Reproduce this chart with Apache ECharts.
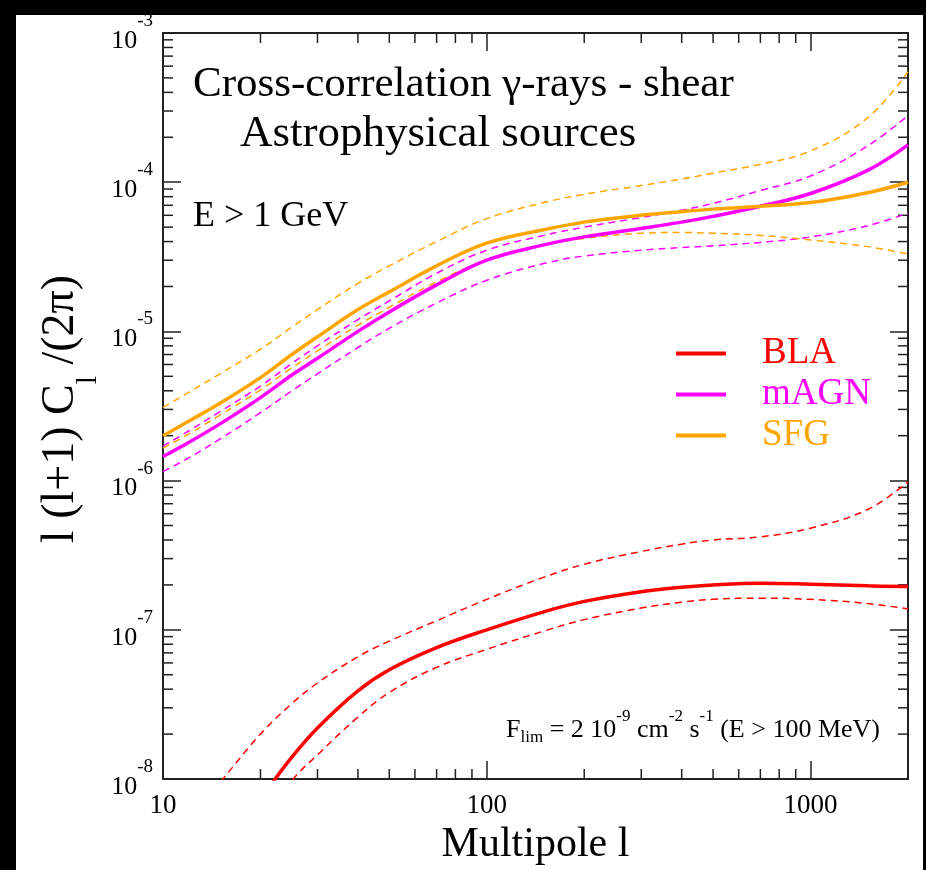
<!DOCTYPE html>
<html><head><meta charset="utf-8">
<script src="https://cdn.jsdelivr.net/npm/echarts@6/dist/echarts.min.js"></script>
<style>
html,body{margin:0;padding:0;background:#000;width:926px;height:870px;overflow:hidden}
#c{position:absolute;left:16px;top:15px;width:907px;height:855px;background:#fff}
</style></head><body><div id="c"></div>
<script>
// Multipole values (x)
const multipoles = [10,12,15,20,25,30,40,50,70,100,150,200,300,400,500,700,1000,1500,2000];
// SFG
const sfgMain = [2.0e-6,2.5e-6,3.3e-6,4.9e-6,7.0e-6,9.2e-6,1.4e-5,1.84e-5,2.75e-5,3.9e-5,4.8e-5,5.4e-5,6.0e-5,6.35e-5,6.6e-5,6.9e-5,7.3e-5,8.5e-5,1.0e-4];
const sfgHigh = [3.1e-6,3.9e-6,5.2e-6,7.6e-6,1.07e-5,1.4e-5,2.1e-5,2.75e-5,4.0e-5,5.7e-5,7.3e-5,8.3e-5,9.5e-5,1.05e-4,1.15e-4,1.32e-4,1.62e-4,2.7e-4,5.5e-4];
const sfgLow  = [1.65e-6,2.05e-6,2.75e-6,4.05e-6,5.7e-6,7.4e-6,1.1e-5,1.45e-5,2.15e-5,3.0e-5,3.8e-5,4.2e-5,4.55e-5,4.6e-5,4.55e-5,4.4e-5,4.1e-5,3.7e-5,3.3e-5];
// mAGN
const magnMain = [1.45e-6,1.8e-6,2.4e-6,3.6e-6,5.1e-6,6.6e-6,1.0e-5,1.35e-5,2.05e-5,3.0e-5,3.8e-5,4.3e-5,4.9e-5,5.4e-5,5.9e-5,6.9e-5,8.4e-5,1.2e-4,1.78e-4];
const magnHigh = [1.7e-6,2.15e-6,2.9e-6,4.3e-6,6.1e-6,8.0e-6,1.2e-5,1.6e-5,2.45e-5,3.5e-5,4.4e-5,5.0e-5,5.8e-5,6.5e-5,7.2e-5,8.8e-5,1.1e-4,1.75e-4,2.8e-4];
const magnLow  = [1.15e-6,1.42e-6,1.9e-6,2.85e-6,4.0e-6,5.2e-6,7.8e-6,1.05e-5,1.55e-5,2.2e-5,2.85e-5,3.2e-5,3.5e-5,3.65e-5,3.75e-5,3.95e-5,4.3e-5,5.1e-5,6.2e-5];
// BLA
const blaMain = [null,null,null,7.3e-9,1.4e-8,2.2e-8,3.9e-8,5.4e-8,7.6e-8,1.0e-7,1.32e-7,1.55e-7,1.8e-7,1.93e-7,2.0e-7,2.05e-7,2.02e-7,1.97e-7,1.95e-7];
const blaHigh = [null,5.5e-9,9.5e-9,2.0e-8,3.2e-8,4.4e-8,6.6e-8,8.4e-8,1.15e-7,1.6e-7,2.25e-7,2.75e-7,3.35e-7,3.75e-7,4.0e-7,4.2e-7,4.8e-7,6.4e-7,9.8e-7];
const blaLow  = [null,null,null,4.5e-9,9.7e-9,1.45e-8,2.6e-8,3.8e-8,5.6e-8,7.4e-8,9.8e-8,1.17e-7,1.4e-7,1.53e-7,1.6e-7,1.63e-7,1.6e-7,1.5e-7,1.38e-7];
// Axis ranges / ticks
const xMin = 10, xMax = 2000, yMin = 1e-8, yMax = 1e-3;
const xMinorTicks = [20,30,40,50,60,70,80,90,200,300,400,500,600,700,800,900];
const yMinorTicks = [];
for (let e = -8; e <= -4; e++) for (let k = 2; k <= 9; k++) yMinorTicks.push(k * Math.pow(10, e));

const F = "'Liberation Serif','Times New Roman',serif";
const RED = '#ff0000', MAG = '#ff00ff', ORA = '#ffa500';

function pairs(arr){ return multipoles.map((l,i)=>[l, arr[i]]); }
function dashed(name, arr, color){
  return {name, type:'line', data:pairs(arr), xAxisIndex:0, yAxisIndex:0, symbol:'none', smooth:0.4,
    connectNulls:false, lineStyle:{color, width:1.5, type:[7,5]}, itemStyle:{color}, z:2, silent:true};
}
function solid(name, arr, color){
  return {name, type:'line', data:pairs(arr), xAxisIndex:0, yAxisIndex:0, symbol:'none', smooth:0.4,
    connectNulls:false, lineStyle:{color, width:3.5}, itemStyle:{color}, z:3, silent:true};
}

const chart = echarts.init(document.getElementById('c'), null, {renderer:'canvas'});
const axisLineStyle = {color:'#222', width:2};
const tickStyle = {color:'#222', width:1.5};
const xLabelFmt = v => { const e = Math.log10(v); return Math.abs(e - Math.round(e)) < 1e-6 ? String(Math.round(v)) : ''; };
const yLabelFmt = v => { const e = Math.round(Math.log10(v)); return '{b|10}{s|' + e + '}'; };

chart.setOption({
  animation:false,
  backgroundColor:'#fff',
  grid:{left:147, right:15, top:18, bottom:91, show:false, containLabel:false, outerBoundsMode:'none'},
  legend:{
    orient:'vertical', left:655, top:315, itemWidth:50, itemHeight:4, itemGap:4, icon:'rect', selectedMode:false,
    textStyle:{fontFamily:F, fontSize:37, padding:[0,0,0,31]},
    data:[{name:'BLA', textStyle:{color:RED}}, {name:'mAGN', textStyle:{color:MAG}}, {name:'SFG', textStyle:{color:ORA}}]
  },
  xAxis:[
    {type:'log', logBase:10, min:xMin, max:xMax, position:'bottom',
     axisLine:{show:true, lineStyle:axisLineStyle}, axisTick:{inside:true, length:18, lineStyle:tickStyle},
     axisLabel:{fontFamily:F, fontSize:27, color:'#000', margin:13, formatter:xLabelFmt, showMaxLabel:false},
     splitLine:{show:false}, minorTick:{show:false},
     name:'Multipole l', nameLocation:'middle', nameGap:39, nameTextStyle:{fontFamily:F, fontSize:42, color:'#000'}},
    {type:'log', logBase:10, min:xMin, max:xMax, position:'top',
     axisLine:{show:true, lineStyle:axisLineStyle}, axisTick:{inside:true, length:18, lineStyle:tickStyle},
     axisLabel:{show:false}, splitLine:{show:false}}
  ],
  yAxis:[
    {type:'log', logBase:10, min:yMin, max:yMax, position:'left',
     axisLine:{show:true, lineStyle:axisLineStyle}, axisTick:{inside:true, length:18, lineStyle:tickStyle},
     axisLabel:{formatter:yLabelFmt, margin:10, rich:{
        b:{fontFamily:F, fontSize:26, color:'#000', padding:[16,0,0,0]},
        s:{fontFamily:F, fontSize:19, color:'#000', padding:[0,0,24,0]}}},
     splitLine:{show:false}},
    {type:'log', logBase:10, min:yMin, max:yMax, position:'right',
     axisLine:{show:true, lineStyle:axisLineStyle}, axisTick:{inside:true, length:18, lineStyle:tickStyle},
     axisLabel:{show:false}, splitLine:{show:false}}
  ],
  series:[
    dashed('BLA hi', blaHigh, RED), dashed('BLA lo', blaLow, RED),
    dashed('mAGN hi', magnHigh, MAG), dashed('mAGN lo', magnLow, MAG),
    dashed('SFG hi', sfgHigh, ORA), dashed('SFG lo', sfgLow, ORA),
    solid('BLA', blaMain, RED), solid('mAGN', magnMain, MAG), solid('SFG', sfgMain, ORA)
  ]
});

// Minor ticks (positions from the axes' own scales) + texts
const px = v => chart.convertToPixel({xAxisIndex:0}, v);
const py = v => chart.convertToPixel({yAxisIndex:0}, v);
const xl = px(xMin), xr = px(xMax), yb = py(yMin), yt = py(yMax);
const minorLen = 10;
const g = [];
xMinorTicks.forEach(v => {
  const x = px(v);
  g.push({type:'line', silent:true, shape:{x1:x, y1:yb, x2:x, y2:yb-minorLen}, style:{stroke:'#222', lineWidth:1.5}});
  g.push({type:'line', silent:true, shape:{x1:x, y1:yt, x2:x, y2:yt+minorLen}, style:{stroke:'#222', lineWidth:1.5}});
});
yMinorTicks.forEach(v => {
  const y = py(v);
  g.push({type:'line', silent:true, shape:{x1:xl, y1:y, x2:xl+minorLen, y2:y}, style:{stroke:'#222', lineWidth:1.5}});
  g.push({type:'line', silent:true, shape:{x1:xr, y1:y, x2:xr-minorLen, y2:y}, style:{stroke:'#222', lineWidth:1.5}});
});
g.push({type:'text', silent:true, left:177, top:48, style:{text:'Cross-correlation \u03b3-rays - shear', font:'43px ' + F, fill:'#000'}});
g.push({type:'text', silent:true, left:224, top:97, style:{text:'Astrophysical sources', font:'45px ' + F, fill:'#000'}});
g.push({type:'text', silent:true, left:177, top:184, style:{text:'E > 1 GeV', font:'36px ' + F, fill:'#000'}});
g.push({type:'text', silent:true, x:864, y:715, style:{
  text:'{b|F}{sub|lim}{b| = 2 10}{sup|-9}{b| cm}{sup|-2}{b| s}{sup|-1}{b| (E > 100 MeV)}',
  align:'right', verticalAlign:'middle',
  rich:{
    b:{fontFamily:F, fontSize:26, fill:'#000', color:'#000'},
    sub:{fontFamily:F, fontSize:17, fill:'#000', color:'#000', padding:[16,0,0,0]},
    sup:{fontFamily:F, fontSize:17, fill:'#000', color:'#000', padding:[0,0,26,0]}
  }}});
g.push({type:'text', silent:true, x:45, y:394, rotation:Math.PI/2, style:{
  text:'{b|l (l+1) C}{sub|l}{b| /(2\u03c0)}', align:'center', verticalAlign:'middle',
  rich:{
    b:{fontFamily:F, fontSize:46, fill:'#000', color:'#000'},
    sub:{fontFamily:F, fontSize:30, fill:'#000', color:'#000', padding:[54,0,0,0]}
  }}});
chart.setOption({graphic:g});
</script>
</body></html>
